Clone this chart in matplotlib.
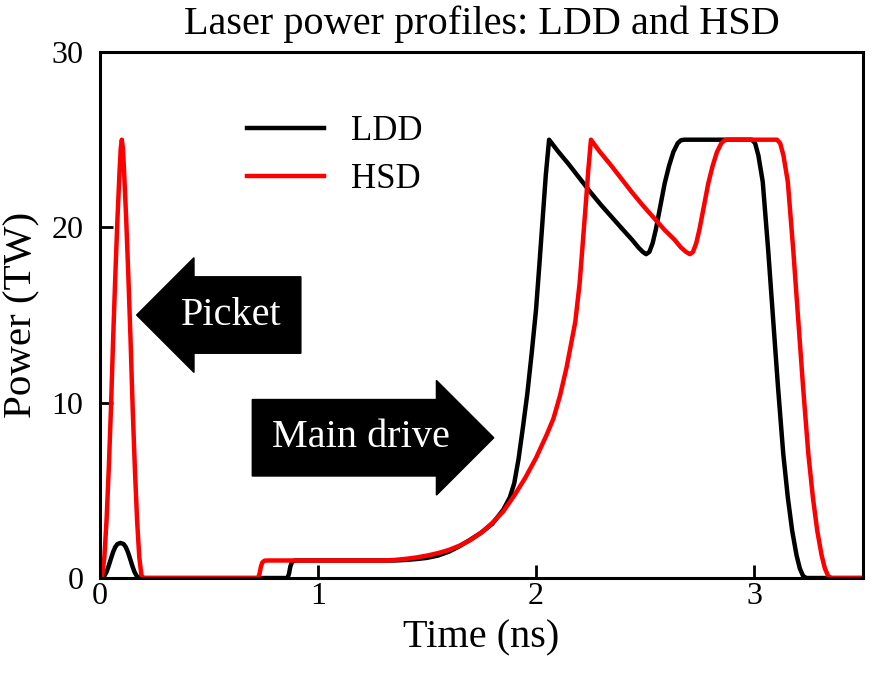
#!/usr/bin/env python3
import matplotlib

matplotlib.use("Agg")
import matplotlib.pyplot as plt

plt.rcParams["font.family"] = ["Liberation Serif", "DejaVu Serif"]

# LDD profile
t_ldd = [0.0, 0.01, 0.02, 0.03, 0.04, 0.05, 0.06, 0.07, 0.08, 0.094,
         0.108, 0.118, 0.128, 0.138, 0.148, 0.158, 0.168, 0.178, 0.19,
         0.86, 0.867, 0.873, 0.88, 0.89, 0.905,
         1.35, 1.40, 1.45, 1.50, 1.55, 1.60, 1.65, 1.70, 1.75, 1.80, 1.85,
         1.88, 1.90, 1.92, 1.94, 1.96, 1.98, 2.00, 2.015, 2.03, 2.045, 2.06,
         2.10, 2.15, 2.20, 2.25, 2.30, 2.35, 2.40, 2.44, 2.47, 2.49, 2.505,
         2.52, 2.535, 2.55, 2.57, 2.59, 2.61, 2.63, 2.65, 2.665, 2.68,
         2.99, 3.005, 3.02, 3.04, 3.065, 3.088, 3.11, 3.134, 3.155, 3.175,
         3.195, 3.21, 3.225, 3.24, 3.5]
p_ldd = [0.0, 0.02, 0.12, 0.35, 0.7, 1.1, 1.48, 1.77, 1.94, 2.0,
         1.94, 1.77, 1.48, 1.1, 0.7, 0.35, 0.12, 0.02, 0.0,
         0.0, 0.25, 0.65, 0.9, 0.99, 1.0,
         1.0, 1.03, 1.08, 1.15, 1.28, 1.5, 1.82, 2.2, 2.6, 3.1, 3.9,
         4.6, 5.4, 6.8, 8.6, 10.5, 12.8, 15.3, 17.8, 20.4, 23.0, 25.0,
         24.35, 23.6, 22.8, 22.0, 21.25, 20.55, 19.85, 19.3, 18.85, 18.6, 18.47,
         18.6, 19.1, 19.9, 21.2, 22.5, 23.5, 24.3, 24.8, 24.97, 25.0,
         25.0, 24.8, 24.1, 22.6, 18.7, 14.7, 10.9, 7.1, 4.6, 2.7,
         1.3, 0.55, 0.12, 0.0, 0.0]

# HSD profile
t_hsd = [0.0, 0.01, 0.02, 0.03, 0.04, 0.05, 0.06, 0.07, 0.08, 0.09, 0.095,
         0.1, 0.105, 0.11, 0.12, 0.13, 0.14, 0.15, 0.16, 0.17, 0.18, 0.19, 0.2,
         0.725, 0.732, 0.738, 0.745, 0.755, 0.77,
         1.30, 1.35, 1.40, 1.45, 1.50, 1.55, 1.60, 1.65, 1.70, 1.75, 1.80,
         1.85, 1.90, 1.95, 2.00, 2.05, 2.08, 2.11, 2.14, 2.16, 2.18, 2.20,
         2.215, 2.23, 2.24, 2.252,
         2.29, 2.34, 2.39, 2.44, 2.49, 2.54, 2.59, 2.635, 2.665, 2.688, 2.706,
         2.72, 2.735, 2.75, 2.77, 2.79, 2.81, 2.83, 2.85, 2.865, 2.88,
         3.105, 3.12, 3.135, 3.155, 3.18, 3.203, 3.225, 3.249, 3.27, 3.29,
         3.31, 3.325, 3.34, 3.355, 3.5]
p_hsd = [0.0, 0.15, 1.2, 3.3, 6.2, 9.6, 13.6, 17.2, 20.5, 23.3, 24.5,
         25.0, 24.5, 23.3, 20.5, 17.2, 13.6, 9.6, 6.2, 3.3, 1.2, 0.15, 0.0,
         0.0, 0.25, 0.65, 0.9, 0.99, 1.0,
         1.0, 1.03, 1.09, 1.17, 1.28, 1.42, 1.6, 1.85, 2.17, 2.6, 3.15,
         3.8, 4.7, 5.7, 6.85, 8.2, 9.1, 10.4, 12.0, 13.3, 14.6, 16.8,
         19.2, 21.6, 23.3, 25.0,
         24.35, 23.6, 22.8, 22.0, 21.25, 20.55, 19.85, 19.3, 18.85, 18.6, 18.47,
         18.6, 19.1, 19.9, 21.2, 22.5, 23.5, 24.3, 24.8, 24.97, 25.0,
         25.0, 24.8, 24.1, 22.6, 18.7, 14.7, 10.9, 7.1, 4.6, 2.7,
         1.3, 0.55, 0.12, 0.0, 0.0]

x_ticks = [0, 1, 2, 3]
y_ticks = [0, 10, 20, 30]

fig = plt.figure(figsize=(8.72, 6.74), dpi=100)
ax = fig.add_axes([0.1147, 0.1424, 0.875, 0.7804])

ax.plot(t_ldd, p_ldd, color="black", lw=3.2, label="LDD")
ax.plot(t_hsd, p_hsd, color="red", lw=3.2, label="HSD")

ax.set_xlim(0, 3.5)
ax.set_ylim(0, 30)
ax.set_xticks(x_ticks)
ax.set_yticks(y_ticks)
ax.tick_params(direction="in", length=9.5, width=2, labelsize=23)
ax.tick_params(axis="x", pad=3)
ax.tick_params(axis="y", pad=12)
for s in ax.spines.values():
    s.set_linewidth(2.2)

ax.set_xlabel("Time (ns)", fontsize=29, labelpad=6)
ax.set_ylabel("Power (TW)", fontsize=29.5, labelpad=8)
ax.set_title("Laser power profiles: LDD and HSD", fontsize=29, pad=13)

ax.legend(loc="upper left", bbox_to_anchor=(0.152, 0.94), frameon=False,
          fontsize=25, handlelength=2.2, handletextpad=0.78, labelspacing=0.45)

ax.text(0.6, 15.0, "Picket", fontsize=29, color="white", ha="center", va="center",
        bbox=dict(boxstyle="larrow,pad=0.49", fc="black", ec="black"))
ax.text(1.197, 8.0, "Main drive", fontsize=29, color="white", ha="center", va="center",
        bbox=dict(boxstyle="rarrow,pad=0.49", fc="black", ec="black"))

fig.savefig("out.png", dpi=100)
